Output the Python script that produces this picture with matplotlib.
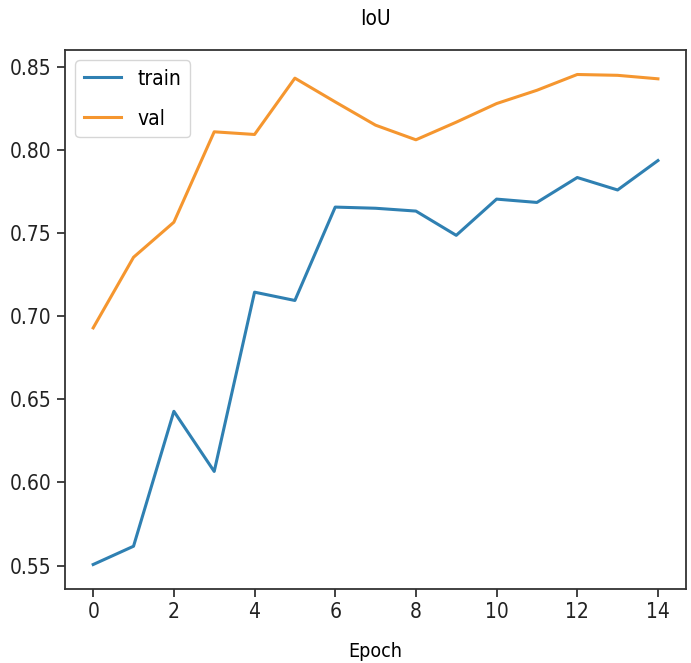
# IoU curves per epoch (train vs val)
import matplotlib
matplotlib.use("Agg")
import matplotlib.pyplot as plt

# values
epochs = list(range(15))
train_iou = [0.5506, 0.5616, 0.6428, 0.6066, 0.7145, 0.7095, 0.7657, 0.7650,
             0.7633, 0.7487, 0.7705, 0.7685, 0.7835, 0.7760, 0.7937]
val_iou = [0.6930, 0.7355, 0.7566, 0.8110, 0.8094, 0.8433, 0.8290, 0.8150,
           0.8062, 0.8168, 0.8280, 0.8360, 0.8455, 0.8450, 0.8429]

plt.rcParams['font.family'] = ['DejaVu Sans']
plt.rcParams['font.stretch'] = 'condensed'
plt.rcParams['font.size'] = 14

fig = plt.figure(figsize=(6.91, 6.63), dpi=100)
ax = fig.add_axes([0.094, 0.1116, 0.899, 0.813])
ax.plot(epochs, train_iou, label='train', linewidth=2.2, color='#2f80b2')
ax.plot(epochs, val_iou, label='val', linewidth=2.2, color='#f5962f')
ax.set_title('IoU', fontsize=15, pad=18)
ax.set_xlabel('Epoch', fontsize=14, labelpad=14)
ax.set_xticks(range(0, 15, 2))
ax.tick_params(length=6, width=1.2, labelsize=15, colors='#222222')
for s in ax.spines.values():
    s.set_linewidth(1.3)
    s.set_color('#333333')
ax.legend(loc='upper left', fontsize=15, handlelength=1.8, labelspacing=0.95,
          borderaxespad=0.5)

fig.savefig("out.png", dpi=100)
